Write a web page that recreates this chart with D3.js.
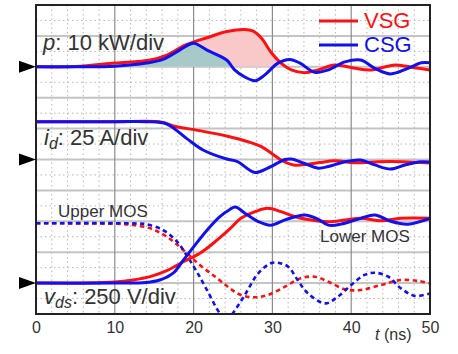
<!DOCTYPE html>
<html>
<head>
<meta charset="utf-8">
<script src="https://cdn.jsdelivr.net/npm/d3@7/dist/d3.min.js"></script>
<style>
  body { margin: 0; background: #fff; }
  text { font-family: "Liberation Sans", Arial, sans-serif; fill: #333; }
</style>
</head>
<body>
<svg id="chart"></svg>
<script>
// time axis, ns
var xTicks = [0, 10, 20, 30, 40, 50];

// p (kW), 10 kW/div
var pVsgT = [0, 5, 10, 14.5, 16.6, 19, 21.7, 24.2, 26.5, 27.5, 28.6, 29.8, 31.1, 32.4, 34.1, 35.8, 37.9, 40.5, 42.5, 45.6, 48, 50];
var pVsgV = [0, 0.1, 1.2, 2.2, 3.8, 7.1, 9.4, 11.4, 12.1, 11.6, 9.3, 4.8, 1.2, -1.0, -1.9, -1.0, 0.6, -0.5, -1.0, 0.6, -0.3, -1.0];
var pCsgT = [0, 5, 10, 14, 16.1, 17.9, 19.5, 20.1, 21.7, 24.2, 25.2, 26.5, 27.8, 29, 30.7, 32.2, 33.5, 35.4, 37.1, 39.2, 41.2, 43, 45, 47.2, 48.9, 50];
var pCsgV = [0, 0, 0.2, 1.2, 2.4, 4.9, 7.3, 7.6, 5.4, 2.2, -1.0, -3.3, -4.5, -2.7, 1.2, 2.4, 1.2, -1.8, -1.0, 1.6, 2.2, -0.5, -2.3, -0.5, 1.3, 1.3];

// i_d (A), 25 A/div
var iVsgT = [0, 10, 16, 17.4, 20.8, 24.3, 26.9, 28.6, 30, 31.1, 32.7, 34.5, 36, 37.9, 40.5, 43.4, 46.5, 50];
var iVsgV = [30.6, 30.6, 30.2, 27.1, 23.3, 18.8, 14.4, 10.4, 4.5, -0.4, -4.4, -3.8, -2.5, -1.0, -2.6, -1.8, -1.8, -2.8];
var iCsgT = [0, 10, 14, 16.6, 19.1, 21.2, 24.2, 25.5, 27.8, 29.4, 31.6, 32.4, 34, 35.8, 37.1, 39.2, 41.2, 43, 45, 46.8, 48.9, 50];
var iCsgV = [30.6, 30.6, 30.6, 28.7, 17.1, 7.7, 0.4, -1.5, -10.5, -7.0, 0, 0.4, -3, -7.0, -5.7, -1.8, -0.4, -4.4, -7.7, -4.4, -1.8, -2.0];

// v_ds (V), 250 V/div -- lower MOS (solid)
var vLoVsgT = [0, 10, 12.3, 14.5, 16.6, 18.7, 20.8, 23, 24.6, 26, 27.8, 29.4, 31.1, 32.9, 34.9, 37.1, 39.2, 41.2, 43.8, 46.3, 50];
var vLoVsgV = [0, 9, 25, 52, 100, 173, 241, 349, 438, 524, 578, 605, 578, 537, 510, 497, 510, 524, 505, 524, 524];
var vLoCsgT = [0, 10, 14, 15.7, 17.4, 18.7, 20, 21.7, 23.3, 24.6, 25.3, 26.5, 28.2, 29.8, 31.6, 34.1, 35.8, 37.1, 38.7, 41.2, 43, 45.1, 47.2, 50];
var vLoCsgV = [0, 0, 5, 25, 81, 186, 293, 428, 536, 596, 615, 566, 498, 469, 511, 551, 516, 469, 477, 524, 551, 498, 477, 524];

// v_ds (V) -- upper MOS (dashed)
var vUpVsgT = [0, 11, 12.3, 14.5, 16.6, 18.7, 20.8, 23, 24.6, 26, 27.8, 29.4, 31.6, 33.6, 35.4, 37.1, 39.2, 41.2, 43.8, 46.3, 48.5, 50];
var vUpVsgV = [484, 478, 470, 443, 375, 268, 146, 39, -42, -96, -115, -96, -29, 39, 52, 11, -50, -56, -15, 25, 17, -2];
var vUpCsgT = [0, 13, 14, 16.1, 17.9, 19.1, 20.4, 21.7, 23.3, 24.2, 25, 26.5, 28.2, 29.8, 30.7, 32, 33.2, 34.5, 36.7, 38.3, 40, 41.7, 43, 44.7, 46.3, 48.1, 50];
var vUpCsgV = [484, 482, 476, 430, 335, 227, 92, -56, -242, -300, -242, -96, 79, 160, 165, 133, 25, -83, -164, -110, -15, 66, 84, 52, -42, -104, -83];

var width = 458, height = 354;
var plotL = 36, plotR = 430, plotT = 5, plotB = 314;
var red = "#ff1010", blue = "#1010f0";

var svg = d3.select("#chart").attr("width", width).attr("height", height);

var x = d3.scaleLinear().domain([0, 50]).range([plotL, plotR]);
var yDiv = d3.scaleLinear().domain([0, 10]).range([plotB, plotT]);
var yP = d3.scaleLinear().domain([-80, 20]).range([plotB, plotT]);
var yI = d3.scaleLinear().domain([-125, 125]).range([plotB, plotT]);
var yV = d3.scaleLinear().domain([-250, 2250]).range([plotB, plotT]);

svg.append("clipPath").attr("id", "plotclip")
    .append("rect").attr("x", plotL).attr("y", plotT).attr("width", plotR - plotL).attr("height", plotB - plotT);

// grid
var grid = svg.append("g");
grid.selectAll(".vminor").data(d3.range(2, 50, 2).filter(function (d) { return d % 10 != 0; }))
    .enter().append("line")
    .attr("x1", function (d) { return x(d); }).attr("x2", function (d) { return x(d); })
    .attr("y1", plotT).attr("y2", plotB)
    .attr("stroke", "#b8b8b8").attr("stroke-width", 1).attr("stroke-dasharray", "1.5,3");
grid.selectAll(".hminor").data(d3.range(0.5, 10, 1))
    .enter().append("line")
    .attr("x1", plotL).attr("x2", plotR)
    .attr("y1", function (d) { return yDiv(d); }).attr("y2", function (d) { return yDiv(d); })
    .attr("stroke", "#b8b8b8").attr("stroke-width", 1).attr("stroke-dasharray", "1.5,3");
grid.selectAll(".hmajor").data(d3.range(1, 10))
    .enter().append("line")
    .attr("x1", plotL).attr("x2", plotR)
    .attr("y1", function (d) { return yDiv(d); }).attr("y2", function (d) { return yDiv(d); })
    .attr("stroke", "#c4c4c4").attr("stroke-width", 2);
grid.selectAll(".vmajor").data([10, 20, 30, 40])
    .enter().append("line")
    .attr("x1", function (d) { return x(d); }).attr("x2", function (d) { return x(d); })
    .attr("y1", plotT).attr("y2", plotB)
    .attr("stroke", "#8c8c8c").attr("stroke-width", 1.2);

function pts(t, v) {
    return t.map(function (d, i) { return [d, v[i]]; });
}

var plot = svg.append("g").attr("clip-path", "url(#plotclip)");

// shaded humps of the power traces
function hump(id, t0, t1, y, data, color) {
    svg.append("clipPath").attr("id", id)
        .append("rect").attr("x", x(t0)).attr("y", plotT)
        .attr("width", x(t1) - x(t0)).attr("height", y(0) - plotT);
    var area = d3.area().curve(d3.curveCatmullRom)
        .x(function (d) { return x(d[0]); })
        .y0(y(0))
        .y1(function (d) { return y(d[1]); });
    plot.append("path").datum(data).attr("clip-path", "url(#" + id + ")")
        .attr("d", area).attr("fill", color).attr("stroke", "none");
}
hump("humpVsg", 12, 31.6, yP, pts(pVsgT, pVsgV), "#f9c9c9");
hump("humpCsg", 12, 24.8, yP, pts(pCsgT, pCsgV), "#a7c9c8");

function trace(y, data, color, dashed) {
    var line = d3.line().curve(d3.curveCatmullRom)
        .x(function (d) { return x(d[0]); })
        .y(function (d) { return y(d[1]); });
    var p = plot.append("path").datum(data).attr("d", line)
        .attr("fill", "none").attr("stroke", color)
        .attr("stroke-width", dashed ? 2.6 : 3).attr("stroke-linejoin", "round");
    if (dashed) p.attr("stroke-dasharray", "4.5,3.5");
}
trace(yV, pts(vUpVsgT, vUpVsgV), red, true);
trace(yV, pts(vUpCsgT, vUpCsgV), blue, true);
trace(yV, pts(vLoVsgT, vLoVsgV), red, false);
trace(yV, pts(vLoCsgT, vLoCsgV), blue, false);
trace(yI, pts(iVsgT, iVsgV), red, false);
trace(yI, pts(iCsgT, iCsgV), blue, false);
trace(yP, pts(pVsgT, pVsgV), red, false);
trace(yP, pts(pCsgT, pCsgV), blue, false);

// frame
svg.append("rect").attr("x", plotL).attr("y", plotT)
    .attr("width", plotR - plotL).attr("height", plotB - plotT)
    .attr("fill", "none").attr("stroke", "#222").attr("stroke-width", 2);

// zero markers
[yP, yI, yV].forEach(function (s) {
    var yy = s(0);
    svg.append("path")
        .attr("d", "M" + (plotL - 17) + "," + (yy - 6) + "L" + plotL + "," + yy + "L" + (plotL - 17) + "," + (yy + 6) + "Z")
        .attr("fill", "#000");
});

// x axis
var xAxis = d3.axisBottom(x).tickValues(xTicks).tickSize(0).tickPadding(8);
var gx = svg.append("g").attr("transform", "translate(0," + plotB + ")").call(xAxis);
gx.select(".domain").remove();
gx.selectAll("text").attr("font-size", 16).attr("fill", "#333")
    .style("font-family", "'Liberation Sans', Arial, sans-serif");

var tl = svg.append("text").attr("x", 375).attr("y", 340).attr("font-size", 16);
tl.append("tspan").attr("font-style", "italic").text("t");
tl.append("tspan").text(" (ns)");

// panel labels
var lp = svg.append("text").attr("x", 43).attr("y", 50).attr("font-size", 22);
lp.append("tspan").attr("font-style", "italic").text("p");
lp.append("tspan").text(": 10 kW/div");

var li = svg.append("text").attr("x", 44).attr("y", 145).attr("font-size", 22);
li.append("tspan").attr("font-style", "italic").text("i");
li.append("tspan").attr("font-style", "italic").attr("font-size", 16).attr("dy", 4).text("d");
li.append("tspan").attr("dy", -4).text(": 25 A/div");

var lv = svg.append("text").attr("x", 44).attr("y", 304).attr("font-size", 22);
lv.append("tspan").attr("font-style", "italic").text("v");
lv.append("tspan").attr("font-style", "italic").attr("font-size", 16).attr("dy", 4).text("ds");
lv.append("tspan").attr("dy", -4).text(": 250 V/div");

svg.append("text").attr("x", 58).attr("y", 217).attr("font-size", 17).text("Upper MOS");
svg.append("text").attr("x", 320).attr("y", 242).attr("font-size", 17).text("Lower MOS");

// legend
var legend = [["VSG", red, 21], ["CSG", blue, 45]];
legend.forEach(function (d) {
    svg.append("line").attr("x1", 319).attr("x2", 358).attr("y1", d[2]).attr("y2", d[2])
        .attr("stroke", d[1]).attr("stroke-width", 3);
    svg.append("text").attr("x", 364).attr("y", d[2] + 7).attr("font-size", 22)
        .style("fill", d[1]).text(d[0]);
});
</script>
</body>
</html>
